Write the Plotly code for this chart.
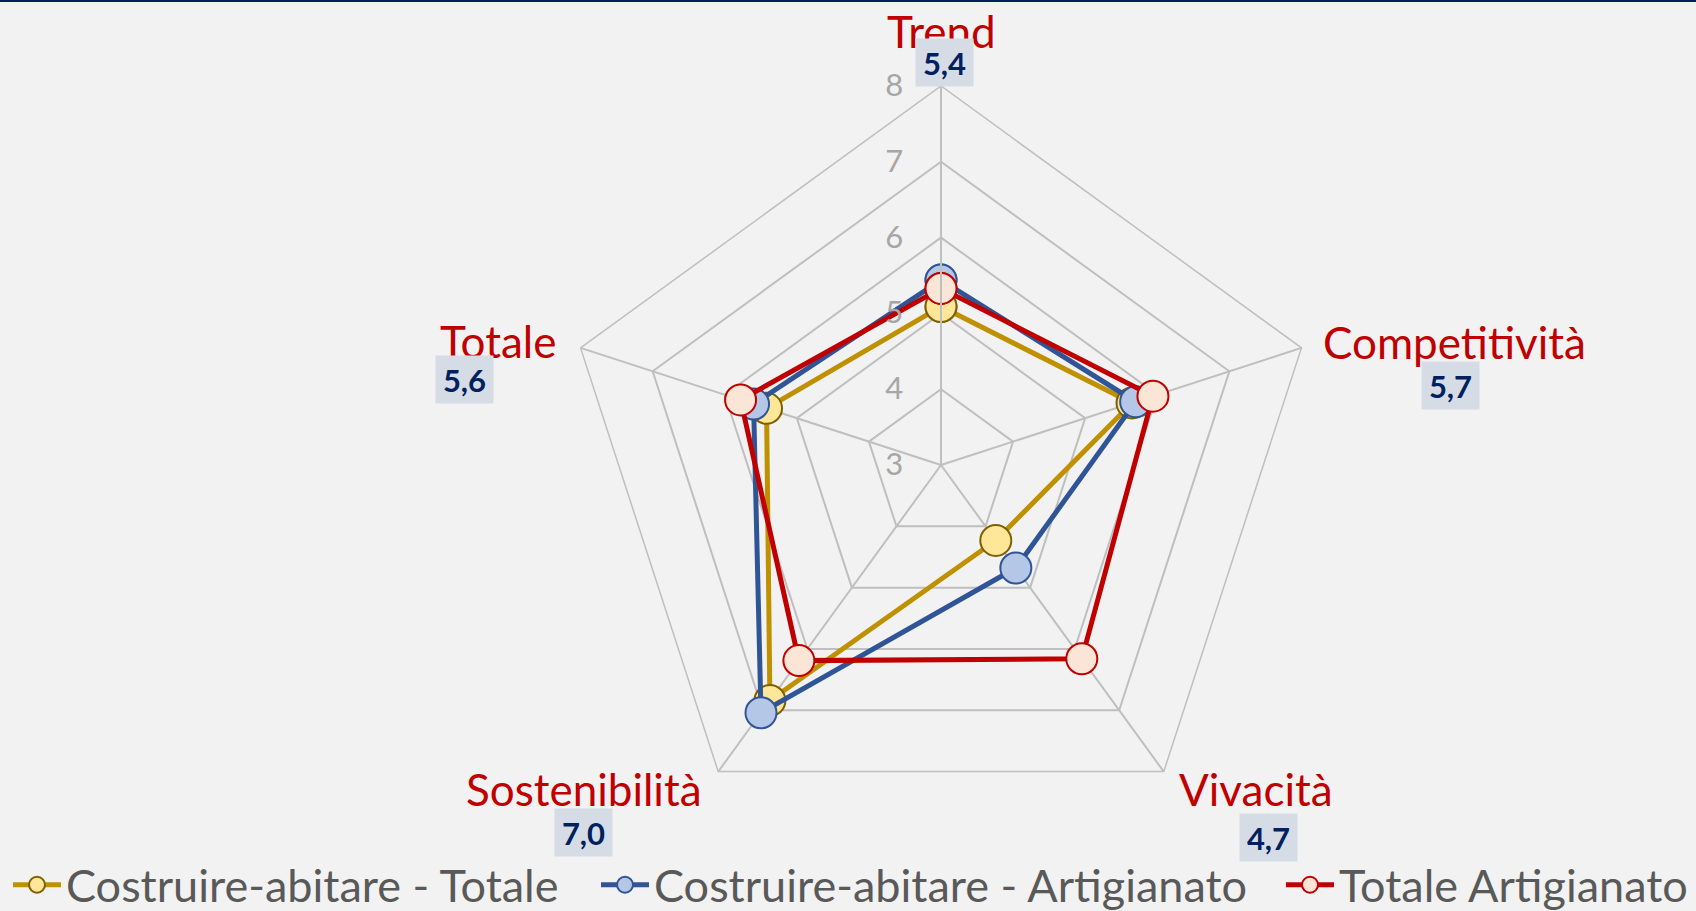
import plotly.graph_objects as go

categories = ["Trend", "Competitività", "Vivacità", "Sostenibilità", "Totale"]
costruire_totale = [5.09, 5.65, 4.23, 6.84, 5.42]
costruire_artigianato = [5.44, 5.70, 4.68, 7.04, 5.60]
totale_artigianato = [5.33, 5.94, 6.16, 6.19, 5.78]
radial_ticks = [3, 4, 5, 6, 7, 8]

W, H = 1696, 911
FONT = "Lato"

series = [
    ("Costruire-abitare - Totale", costruire_totale, "#BF9000", "#FFE699", "#7F6000"),
    ("Costruire-abitare - Artigianato", costruire_artigianato, "#2F5597", "#B4C7E7", "#2F5597"),
    ("Totale Artigianato", totale_artigianato, "#C00000", "#FBE5D6", "#C00000"),
]
legend_ids = ["legend", "legend2", "legend3"]
legend_x = [8, 596, 1281]  # pixel left edges of the legend entries

fig = go.Figure()
for (name, vals, lc, mf, mb), lid in zip(series, legend_ids):
    fig.add_trace(go.Scatterpolar(
        r=vals + vals[:1],
        theta=categories + categories[:1],
        mode="lines+markers",
        name=name,
        legend=lid,
        showlegend=True,
        line=dict(color=lc, width=5),
        marker=dict(size=31, color=mf, line=dict(color=mb, width=2)),
        cliponaxis=False,
    ))

# category label positions (pixels) : (x, y, xanchor)
cat_pos = {
    "Trend": (941, 31, "center"),
    "Competitività": (1321, 342, "left"),
    "Vivacità": (1177, 789, "left"),
    "Sostenibilità": (704, 789, "right"),
    "Totale": (558, 341, "right"),
}
# value label box centres (pixels)
label_pos = {
    "Trend": (944, 63),
    "Competitività": (1450, 385),
    "Vivacità": (1268, 837),
    "Sostenibilità": (583, 832),
    "Totale": (464, 379),
}
annotations = []
for cat in categories:
    px, py, xa = cat_pos[cat]
    annotations.append(dict(
        x=px / W, y=1 - py / H, xref="paper", yref="paper",
        text=cat, showarrow=False, xanchor=xa, yanchor="middle",
        font=dict(family=FONT, size=44, color="#C00000"),
    ))
for cat, v in zip(categories, costruire_artigianato):
    px, py = label_pos[cat]
    annotations.append(dict(
        x=px / W, y=1 - py / H, xref="paper", yref="paper",
        text="<b>" + f"{v:.1f}".replace(".", ",") + "</b>",
        showarrow=False, xanchor="center", yanchor="middle",
        font=dict(family=FONT, size=31, color="#002060"),
        bgcolor="#D6DCE5", borderpad=0, width=57, height=47,
    ))

legend_style = dict(
    orientation="h", xanchor="left", y=1 - 885 / H, yanchor="middle",
    font=dict(family=FONT, size=45, color="#595959"),
    bgcolor="rgba(0,0,0,0)", itemwidth=48,
)
legends = {}
for lid, lx in zip(legend_ids, legend_x):
    legends[lid] = dict(legend_style, x=lx / W)

cx, cy, R = 941, 465, 379
fig.update_layout(
    width=W, height=H,
    showlegend=True,
    margin=dict(l=0, r=0, t=0, b=0, autoexpand=False),
    paper_bgcolor="#F2F2F2",
    plot_bgcolor="#F2F2F2",
    font=dict(family=FONT),
    polar=dict(
        domain=dict(x=[(cx - R) / W, (cx + R) / W], y=[1 - (cy + R) / H, 1 - (cy - R) / H]),
        bgcolor="#F2F2F2",
        gridshape="linear",
        angularaxis=dict(
            rotation=90, direction="clockwise",
            showticklabels=False,
            gridcolor="#BFBFBF", gridwidth=1.5,
            linecolor="#BFBFBF", linewidth=1.5,
            showline=True, ticks="",
        ),
        radialaxis=dict(
            range=[3, 8], tickvals=radial_ticks, angle=90, tickangle=90,
            side="counterclockwise",
            tickfont=dict(family=FONT, size=31, color="#A6A6A6"),
            gridcolor="#BFBFBF", gridwidth=1.5,
            linecolor="#BFBFBF", linewidth=2,
            showline=True, ticks="outside", ticklen=26, tickcolor="rgba(0,0,0,0)",
        ),
    ),
    annotations=annotations,
    shapes=[dict(type="line", xref="paper", yref="paper", x0=0, x1=1, y0=1, y1=1,
                 line=dict(color="#002060", width=4))],
    **legends,
)

fig.write_html(
    "out.html",
    config={"displayModeBar": False},
    post_script="document.body.style.margin='0';document.body.style.overflow='hidden';",
)
